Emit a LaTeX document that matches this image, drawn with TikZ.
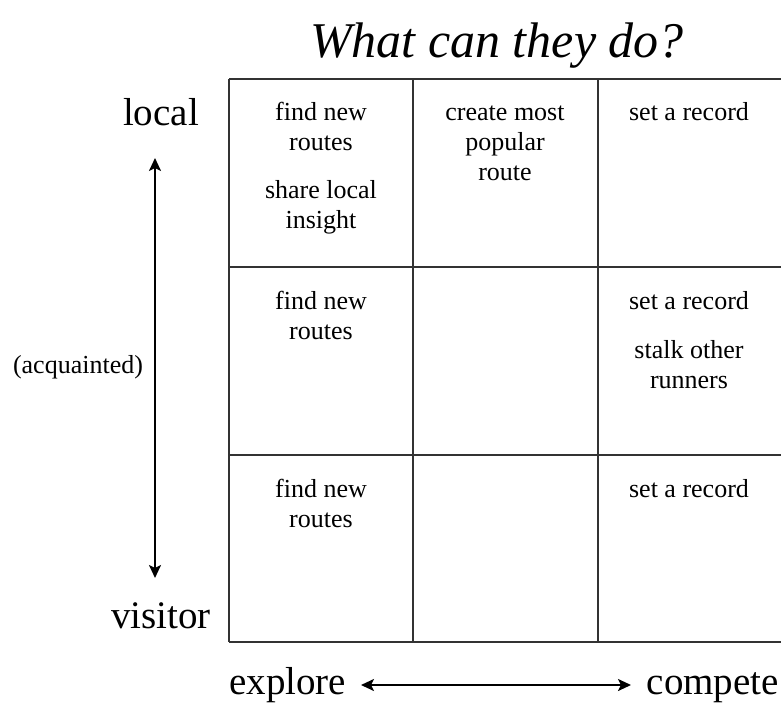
\documentclass[tikz,border=0pt]{standalone}
\usepackage{fontspec}
\setmainfont{Liberation Serif}
\usetikzlibrary{arrows.meta}
\newcommand\celltxt[1]{\begin{tabular}[t]{@{}c@{}}#1\end{tabular}}
\tikzset{
  grid/.style={draw=black!80, line width=1.3pt},
  axis/.style={line width=2.2pt, {Stealth[length=13pt,width=12pt,inset=3pt]}-{Stealth[length=13pt,width=12pt,inset=3pt]}},
  cell/.style={anchor=base, inner sep=0pt, font=\fontsize{26}{30}\selectfont},
  axlab/.style={anchor=base, inner sep=0pt, font=\fontsize{39}{42}\selectfont},
}
\begin{document}
\begin{tikzpicture}[x=1pt,y=-1pt]
\useasboundingbox (0,0) rectangle (781,706);
\clip (0,0) rectangle (781,706);
\fill[white] (0,0) rectangle (781,706);
% title
\node[anchor=base west, inner sep=0pt, font=\fontsize{50}{56}\selectfont\itshape] (title) at (310,58) {What can they do?};
% grid
\draw[grid] (229,79) -- (782,79);
\draw[grid] (229,267) -- (782,267);
\draw[grid] (229,455) -- (782,455);
\draw[grid] (229,642) -- (782,642);
\draw[grid] (229,79) -- (229,642);
\draw[grid] (413,79) -- (413,642);
\draw[grid] (598,79) -- (598,642);
% row 1
\node[cell] (c11a) at (321,121) {\celltxt{find new\\routes}};
\node[cell] (c11b) at (321,198) {\celltxt{share local\\insight}};
\node[cell] (c12) at (505,121) {\celltxt{create most\\popular\\route}};
\node[cell] (c13) at (689,121) {set a record};
% row 2
\node[cell] (c21) at (321,309) {\celltxt{find new\\routes}};
\node[cell] (c23a) at (689,309) {set a record};
\node[cell] (c23b) at (689,358) {\celltxt{stalk other\\runners}};
% row 3
\node[cell] (c31) at (321,497) {\celltxt{find new\\routes}};
\node[cell] (c33) at (689,497) {set a record};
% axis labels
\node[axlab] (local) at (161,125) {local};
\node[axlab] (visitor) at (161,628) {visitor};
\node[cell] (acq) at (78,373) {(acquainted)};
\node[axlab, anchor=base west] (explore) at (229,694) {explore};
\node[axlab, anchor=base east] (compete) at (779,694) {compete};
% arrows
\coordinate (vtop) at (155,158);
\coordinate (vbot) at (155,578);
\coordinate (hl) at (361,685);
\coordinate (hr) at (631,685);
\draw[axis] (vtop) -- (vbot);
\draw[axis] (hl) -- (hr);
\end{tikzpicture}
\end{document}
